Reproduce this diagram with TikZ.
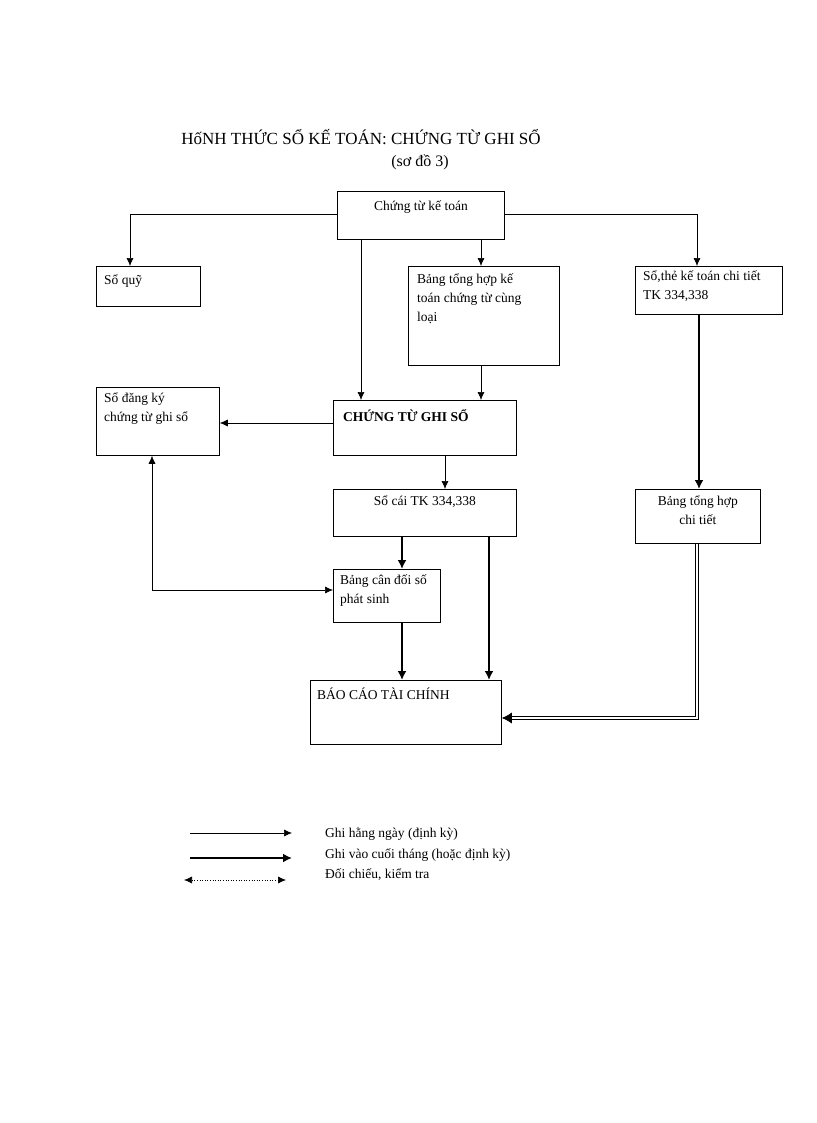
\documentclass[tikz,border=0pt]{standalone}
\usepackage{fontspec}
\setmainfont{Liberation Serif}
\usetikzlibrary{positioning}
\usetikzlibrary {arrows.meta}
\tikzset{box/.style={rectangle,draw=black,fill=white,anchor=north west,
inner sep=0pt,line width=0.8pt}}
\tikzset{txt/.style={anchor=north west,inner sep=0pt,align=left,font=\fontsize{13.5}{19}\selectfont}}
\tikzset{thin/.style={line width=0.6pt,-{Latex[length=8pt,width=7pt]}}}
\tikzset{thick/.style={line width=2.4pt,-{Latex[length=9pt,width=9pt]}}}
\tikzset{dbl/.style={double,double distance=2.5pt,line width=0.7pt,-{Latex[length=10pt,width=11pt]}}}

\begin{document}
\begin{tikzpicture}[x=1pt,y=-1pt]
        \useasboundingbox (0,0) rectangle (816,1123);

        \node[font=\fontsize{17}{20}\selectfont] (title) at (361,137) {HốNH THỨC SỔ KẾ TOÁN: CHỨNG TỪ GHI SỔ};
        \node[font=\fontsize{16}{20}\selectfont] (sub) at (420,162) {(sơ đồ 3)};

        \node[box,minimum width=167,minimum height=48,label={[txt,anchor=north,yshift=-10pt]north:Chứng từ kế toán}] (ctkt) at (337,191) {};
        \node[box,minimum width=104,minimum height=40,label={[txt,xshift=8pt,yshift=-9pt]north west:Sổ quỹ}] (soquy) at (96,266) {};
        \node[box,minimum width=151,minimum height=99,label={[txt,xshift=9pt,yshift=-8pt]north west:Bảng tổng hợp kế\\toán chứng từ cùng\\loại}] (bangth) at (408,266) {};
        \node[box,minimum width=147,minimum height=48,label={[txt,xshift=8pt,yshift=-5pt]north west:Sổ,thẻ kế toán chi tiết\\TK 334,338}] (sothe) at (635,266) {};
        \node[box,minimum width=123,minimum height=68,label={[txt,xshift=8pt,yshift=-6pt]north west:Sổ đăng ký\\chứng từ ghi sổ}] (sodk) at (96,387) {};
        \node[box,minimum width=183,minimum height=55,label={[txt,xshift=10pt,yshift=-9pt]north west:\textbf{CHỨNG TỪ GHI SỔ}}] (ctgs) at (333,400) {};
        \node[box,minimum width=183,minimum height=47,label={[txt,anchor=north,yshift=-7pt]north:Sổ cái TK 334,338}] (socai) at (333,489) {};
        \node[box,minimum width=125,minimum height=54,label={[txt,anchor=north,yshift=-7pt,align=center]north:Bảng tổng hợp\\chi tiết}] (bthct) at (635,489) {};
        \node[box,minimum width=107,minimum height=53,label={[txt,xshift=7pt,yshift=-6pt]north west:Bảng cân đối số\\phát sinh}] (bcdps) at (333,569) {};
        \node[box,minimum width=191,minimum height=64,label={[txt,xshift=7pt,yshift=-8pt]north west:BÁO CÁO TÀI CHÍNH}] (bctc) at (310,680) {};

        % ghi hang ngay
        \draw[thin] (ctkt.west |- 0,214) -| (soquy.north -| 130,0);
        \draw[thin] (ctkt.east |- 0,214) -| (sothe.north -| 697,0);
        \draw[thin] (ctkt.south -| 361,0) -- (ctgs.north -| 361,0);
        \draw[thin] (ctkt.south -| 481,0) -- (bangth.north -| 481,0);
        \draw[thin] (bangth.south -| 481,0) -- (ctgs.north -| 481,0);
        \draw[thin] (ctgs.west |- 0,423) -- (sodk.east |- 0,423);
        \draw[thin] (ctgs.south -| 445,0) -- (socai.north -| 445,0);
        \draw[thin,{Latex[length=8pt,width=7pt]}-{Latex[length=8pt,width=7pt]}] (sodk.south -| 152,0) |- (bcdps.west |- 0,590);

        % cuoi thang
        \draw[thick] (socai.south -| 402,0) -- (bcdps.north -| 402,0);
        \draw[thick] (socai.south -| 489,0) -- (bctc.north -| 489,0);
        \draw[thick] (bcdps.south -| 402,0) -- (bctc.north -| 402,0);
        \draw[thick] (sothe.south -| 699,0) -- (bthct.north -| 699,0);
        \draw[dbl] (bthct.south -| 697,0) |- (bctc.east |- 0,718);

        % chu thich
        \coordinate (l1a) at (190,833); \coordinate (l1b) at (292,833);
        \coordinate (l2a) at (190,858); \coordinate (l2b) at (292,858);
        \coordinate (l3a) at (184,880); \coordinate (l3b) at (286,880);
        \draw[thin] (l1a) -- (l1b);
        \draw[thick] (l2a) -- (l2b);
        \draw[line width=0.6pt,dotted,{Latex[length=8pt,width=7pt]}-{Latex[length=8pt,width=7pt]}] (l3a) -- (l3b);
        \node[txt,anchor=west] (lg1) at (325,834) {Ghi hằng ngày (định kỳ)};
        \node[txt,anchor=west] (lg2) at (325,855) {Ghi vào cuối tháng (hoặc định kỳ)};
        \node[txt,anchor=west] (lg3) at (325,875) {Đối chiếu, kiểm tra};
\end{tikzpicture}
\end{document}
